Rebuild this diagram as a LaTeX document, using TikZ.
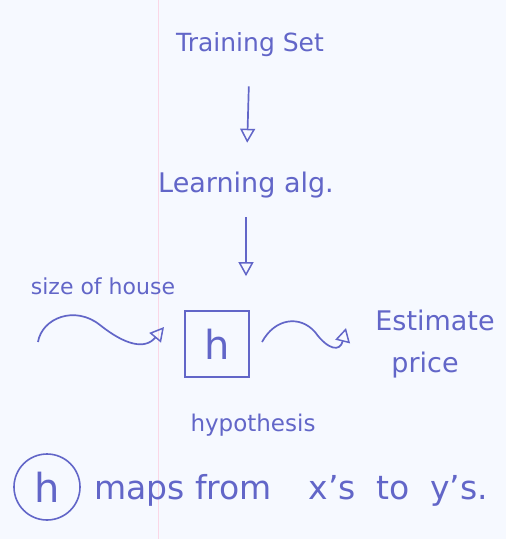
\documentclass[tikz,border=0pt]{standalone}
\usepackage{fontspec}
\setmainfont{DejaVu Sans}
\usetikzlibrary{arrows.meta}
\definecolor{ink}{RGB}{98,102,200}
\definecolor{paper}{RGB}{246,249,255}
\definecolor{margin}{RGB}{250,215,230}
\newcommand{\fs}[1]{\fontsize{#1}{#1}\selectfont}
\tikzset{
  lbl/.style={text=ink, inner sep=1pt},
  tip/.style={-{Triangle[open, length=14pt, width=15pt, line width=1.5pt]}},
  flow/.style={draw=ink, line width=1.7pt, tip},
  hbox/.style={draw=ink, line width=1.7pt, minimum width=64pt, minimum height=66pt, text=ink, font=\fs{40}},
}
\begin{document}
\begin{tikzpicture}[x=1pt,y=-1pt]
\fill[paper] (0,0) rectangle (506,539);
\useasboundingbox (0,0) rectangle (506,539);
\draw[margin, line width=0.8pt] (158,0) -- (158,539);
\node[lbl, font=\fs{25}] (train) at (250,45) {Training Set};
\node[lbl, font=\fs{27}] (learn) at (246,185) {Learning alg.};
\node[hbox] (h) at (217,344) {h};
\node[lbl, font=\fs{22}] (size) at (103,286) {size of house};
\node[lbl, font=\fs{27}] (est) at (435,320) {Estimate};
\node[lbl, font=\fs{27}] (price) at (425,365) {price};
\node[lbl, font=\fs{23}] (hyp) at (253,425) {hypothesis};
\node[draw=ink, line width=1.6pt, circle, minimum size=66pt, text=ink, font=\fs{40}] (hc) at (47,487) {h};
\node[lbl, anchor=west, font=\fs{33}] (maps) at (93,490) {maps from\hspace{0.8em} x's\hspace{0.3em} to\hspace{0.3em} y's.};
\coordinate (ls) at (38,342);
\coordinate (le) at (164,327);
\coordinate (rs) at (262,342);
\coordinate (re) at (346,328);
\draw[flow, shorten <=28pt, shorten >=28pt] (train) -- (learn);
\draw[flow, shorten <=18pt, shorten >=34pt] (learn) -- (learn |- h.north);
\draw[flow] (ls) .. controls (42,318) and (75,305) .. (100,325) .. controls (125,345) and (145,350) .. (le);
\draw[flow] (rs) .. controls (275,318) and (300,315) .. (315,332) .. controls (328,350) and (340,352) .. (re);
\end{tikzpicture}
\end{document}
